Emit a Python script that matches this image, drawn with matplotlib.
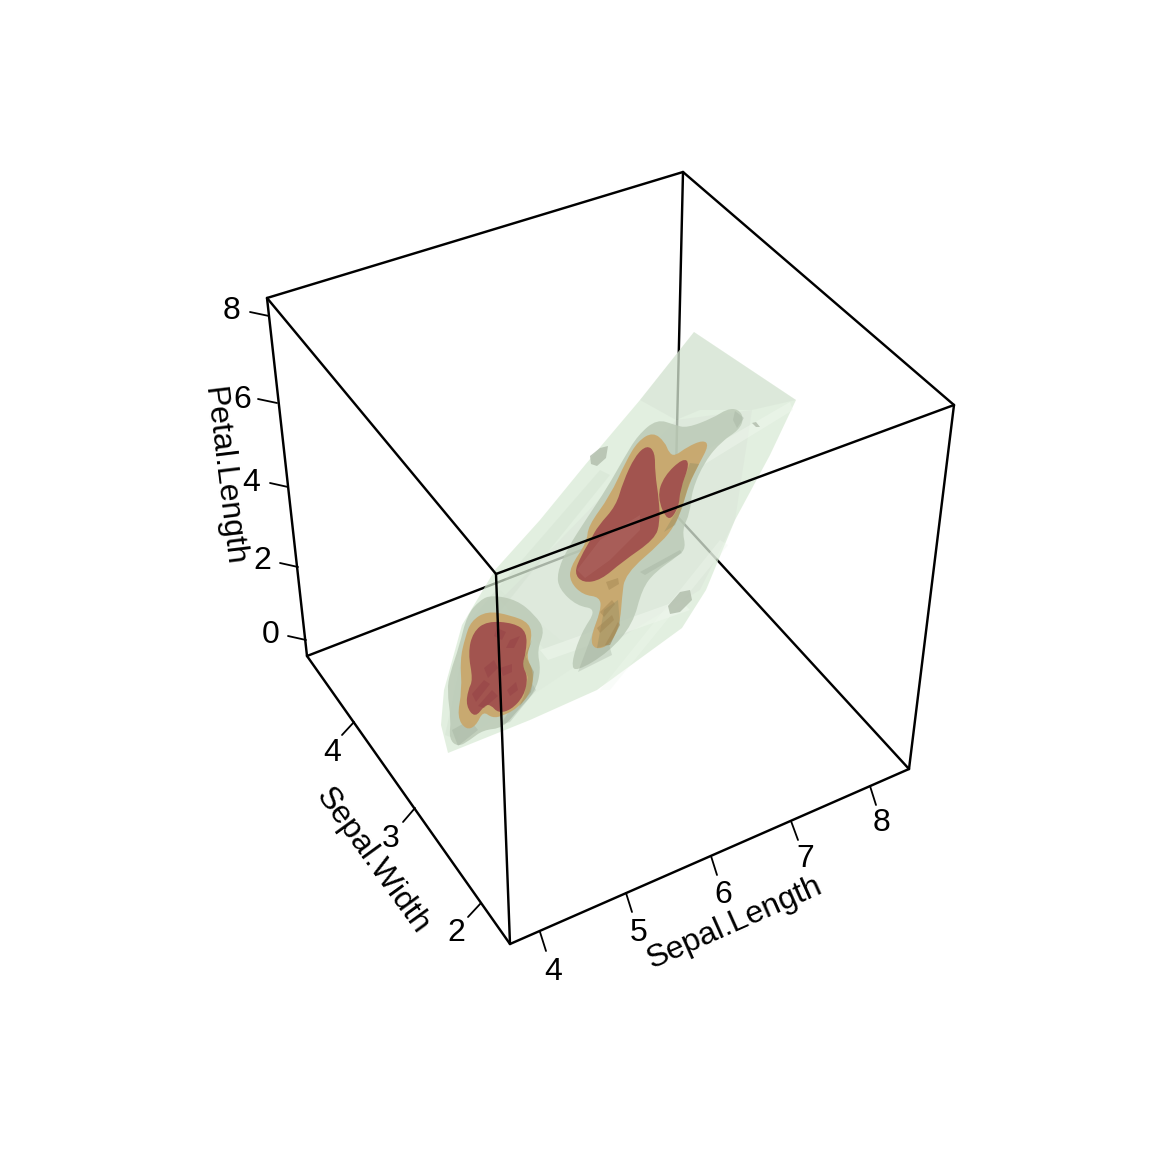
import matplotlib
matplotlib.use('agg')
import matplotlib.pyplot as plt
from matplotlib.patches import Polygon, PathPatch
from matplotlib.path import Path

plt.rcParams['font.family'] = ['Liberation Sans', 'DejaVu Sans']

box_a = (267, 298)
box_b = (683, 172)
box_c = (954, 405)
box_d = (496, 574)
box_e = (307, 656)
box_f = (510, 944)
box_g = (909, 769)
box_h = (675, 514)

sepal_length_ticks = ['4', '5', '6', '7', '8']
sepal_length_tick_from = [(540, 932), (626, 893), (711, 856), (791, 821), (870, 786)]
sepal_length_tick_to = [(546, 951), (632, 912), (717, 875), (798, 840), (876, 805)]
sepal_length_label_at = [(553, 971), (639, 932), (723, 894), (805, 858), (882, 822)]

sepal_width_ticks = ['4', '3', '2']
sepal_width_tick_from = [(354, 722), (415, 808), (481, 903)]
sepal_width_tick_to = [(342, 735), (403, 822), (468, 917)]
sepal_width_label_at = [(332, 752), (391, 838), (456, 932)]

petal_length_ticks = ['8', '6', '4', '2', '0']
petal_length_tick_from = [(269, 316), (277, 403), (288, 487), (298, 567), (306, 640)]
petal_length_tick_to = [(250, 312), (258, 399), (270, 483), (280, 563), (288, 636)]
petal_length_label_at = [(231, 310), (242, 399), (251, 482), (262, 560), (271, 634)]

# outermost contour shell and a few of its overlapping facets
hull_outer = [(694, 332), (796, 400), (770, 455), (735, 520), (706, 590), (682, 628), (597, 690),
              (530, 720), (448, 753), (441, 725), (444, 690), (462, 625), (495, 570), (540, 520),
              (585, 465), (640, 400)]
hull_back = [(694, 332), (796, 400), (752, 410), (700, 410), (676, 420), (640, 400)]
hull_mid = [(676, 420), (752, 410), (735, 520), (700, 590), (600, 650), (545, 650), (500, 600), (560, 540)]
hull_low = [(500, 590), (560, 640), (600, 650), (540, 690), (470, 735), (450, 735), (455, 670)]
hull_strip_a = [(445, 735), (470, 620), (600, 470), (610, 475), (485, 630), (458, 740)]
hull_strip_b = [(540, 650), (680, 600), (690, 610), (548, 660)]
hull_strip_c = [(620, 500), (790, 402), (793, 410), (630, 510)]
hull_strip_d = [(600, 690), (720, 540), (728, 545), (610, 690)]

# middle contour
grey_left = [(492, 595), (517, 600), (535, 615), (545, 630), (537, 650), (541, 670), (535, 692),
             (518, 710), (503, 728), (483, 730), (470, 740), (458, 747), (449, 739), (451, 720),
             (447, 690), (450, 673), (459, 647), (467, 615), (480, 600)]
grey_main = [(657, 419), (675, 425), (687, 428), (713, 418), (727, 409), (738, 409), (744, 418),
             (739, 430), (722, 441), (705, 461), (692, 490), (690, 513), (682, 530), (686, 548),
             (678, 556), (655, 572), (642, 589), (633, 624), (609, 652), (576, 672), (571, 664),
             (581, 633), (597, 609), (577, 606), (559, 589), (557, 573), (567, 549), (587, 518),
             (607, 488), (624, 458), (638, 435)]
grey_speck_a = [(590, 456), (600, 448), (608, 446), (606, 458), (597, 466), (591, 464)]
grey_speck_b = [(668, 606), (680, 592), (690, 590), (692, 600), (680, 612), (670, 614)]
grey_speck_c = [(752, 423), (756, 422), (760, 427), (756, 427)]
grey_ridges = [[(735, 411), (744, 418), (737, 428), (733, 420)],
               [(640, 572), (680, 550), (682, 553), (645, 575)],
               [(452, 730), (470, 720), (478, 730), (458, 746)],
               [(600, 612), (612, 655), (578, 672), (590, 640)],
               [(500, 725), (530, 680), (536, 690), (510, 722)]]

# inner contours
orange_left = [(487, 611), (510, 615), (530, 623), (532, 640), (526, 657), (534, 672), (531, 692),
               (519, 707), (503, 716), (492, 718), (483, 711), (476, 726), (466, 730), (457, 717),
               (462, 690), (460, 660), (465, 638), (471, 621)]
orange_main = [(653, 432), (665, 442), (669, 453), (675, 456), (687, 447), (703, 440), (709, 445),
               (699, 464), (689, 484), (682, 508), (675, 525), (662, 542), (625, 574), (622, 597),
               (620, 624), (610, 645), (595, 650), (590, 639), (601, 610), (600, 597), (583, 595),
               (570, 582), (570, 567), (587, 542), (588, 526), (610, 496), (626, 461), (638, 441)]
tail_stripes = [[(600, 612), (612, 600), (615, 604), (604, 617)],
                [(597, 628), (612, 615), (614, 620), (600, 633)],
                [(606, 582), (618, 578), (619, 584), (609, 590)],
                [(605, 645), (618, 622), (620, 625), (610, 645)]]
red_left = [(487, 621), (514, 623), (527, 632), (526, 653), (522, 665), (528, 677), (524, 696),
            (511, 710), (498, 713), (491, 705), (485, 705), (475, 718), (466, 706), (468, 690),
            (473, 680), (468, 653), (473, 632)]
red_main = [(647, 445), (655, 452), (655, 473), (659, 500), (660, 522), (655, 539), (622, 562),
            (601, 580), (583, 583), (574, 573), (581, 556), (591, 539), (598, 526), (616, 506),
            (623, 482), (635, 456)]
red_main_b = [(683, 458), (690, 463), (680, 490), (679, 507), (668, 523), (657, 497), (664, 476)]
red_light = [(577, 570), (600, 540), (640, 515), (640, 530), (610, 560), (585, 578)]
orange_dark = [(690, 463), (699, 464), (689, 484), (682, 508), (675, 525), (664, 532), (679, 507), (680, 490)]
left_edge_dark = [(532, 640), (526, 657), (534, 672), (531, 692), (519, 707), (524, 696), (528, 677), (522, 665), (526, 653)]
tail_dark = [(604, 610), (618, 600), (620, 624), (610, 645), (597, 648)]
left_flecks = [[(497, 628), (506, 632), (502, 640), (494, 636)],
               [(510, 640), (520, 636), (514, 648), (506, 648)],
               [(484, 668), (494, 660), (498, 668), (488, 678)],
               [(472, 694), (484, 680), (490, 684), (476, 702)],
               [(478, 706), (492, 690), (498, 696), (484, 708)],
               [(500, 668), (512, 664), (512, 672), (503, 676)],
               [(507, 690), (516, 682), (518, 690), (510, 696)]]

fig = plt.figure(figsize=(11.52, 11.52), dpi=100)
ax = fig.add_axes([0, 0, 1, 1])
ax.set_xlim(0, 1152)
ax.set_ylim(1152, 0)
ax.axis('off')


def edge(p, q, lw=1.75, z=5):
    ax.plot([p[0], q[0]], [p[1], q[1]], color='black', lw=lw, zorder=z, solid_capstyle='round')


def shape(points, color, alpha, z):
    ax.add_patch(Polygon(points, closed=True, facecolor=color, edgecolor='none', alpha=alpha, zorder=z))


def blob(points, color, alpha, z):
    # rounded outline, the listed points act as quadratic control points
    n = len(points)
    mids = [((points[i][0] + points[(i + 1) % n][0]) / 2, (points[i][1] + points[(i + 1) % n][1]) / 2)
            for i in range(n)]
    verts = [mids[-1]]
    codes = [Path.MOVETO]
    for i in range(n):
        verts += [points[i], mids[i]]
        codes += [Path.CURVE3, Path.CURVE3]
    ax.add_patch(PathPatch(Path(verts, codes), facecolor=color, edgecolor='none', alpha=alpha, zorder=z))


# back edges go under the translucent shells
edge(box_e, box_h, z=1)
edge(box_h, box_g, z=1)
edge(box_b, box_h, z=1)

shape(hull_outer, '#d8ead4', 0.72, 2)
shape(hull_back, '#c3cdc1', 0.18, 2)
shape(hull_mid, '#d0d5d0', 0.22, 2)
shape(hull_low, '#d4e4d2', 0.20, 2)
shape(hull_strip_a, '#c6d6c4', 0.22, 2)
shape(hull_strip_b, '#f0f8ee', 0.50, 2)
shape(hull_strip_c, '#f0f8ee', 0.45, 2)
shape(hull_strip_d, '#f0f8ee', 0.35, 2)

for pts in [grey_left, grey_main]:
    blob(pts, '#b9c8b4', 0.80, 3)
for pts in [grey_speck_a, grey_speck_b, grey_speck_c]:
    shape(pts, '#b3bfae', 0.85, 3)
for pts in grey_ridges:
    shape(pts, '#95a391', 0.28, 3.05)
for pts in [orange_left, orange_main]:
    blob(pts, '#c9a76b', 0.93, 3.1)
for pts in [orange_dark, left_edge_dark, tail_dark]:
    shape(pts, '#8e8a62', 0.38, 3.2)
for pts in tail_stripes:
    shape(pts, '#9b7f4c', 0.40, 3.2)
for pts in [red_left, red_main, red_main_b]:
    blob(pts, '#a0504e', 0.95, 3.3)
shape(red_light, '#b5706a', 0.35, 3.4)
for pts in left_flecks:
    shape(pts, '#8c3440', 0.30, 3.4)

# front edges
edge(box_a, box_b)
edge(box_b, box_c)
edge(box_c, box_d)
edge(box_d, box_a)
edge(box_a, box_e)
edge(box_c, box_g)
edge(box_d, box_f)
edge(box_e, box_f)
edge(box_f, box_g)

for name, starts, ends, places in [
        (sepal_length_ticks, sepal_length_tick_from, sepal_length_tick_to, sepal_length_label_at),
        (sepal_width_ticks, sepal_width_tick_from, sepal_width_tick_to, sepal_width_label_at),
        (petal_length_ticks, petal_length_tick_from, petal_length_tick_to, petal_length_label_at)]:
    for lab, p, q, pos in zip(name, starts, ends, places):
        edge(p, q, lw=1.3)
        ax.text(pos[0], pos[1] + 1, lab, fontsize=23, ha='center', va='center', color='black')

ax.text(735, 923, 'Sepal.Length', fontsize=23, rotation=24, ha='center', va='center', rotation_mode='anchor')
ax.text(372, 861, 'Sepal.Width', fontsize=23, rotation=-54, ha='center', va='center', rotation_mode='anchor')
ax.text(223, 476, 'Petal.Length', fontsize=23, rotation=-83, ha='center', va='center', rotation_mode='anchor')

fig.savefig('out.png', dpi=100)
